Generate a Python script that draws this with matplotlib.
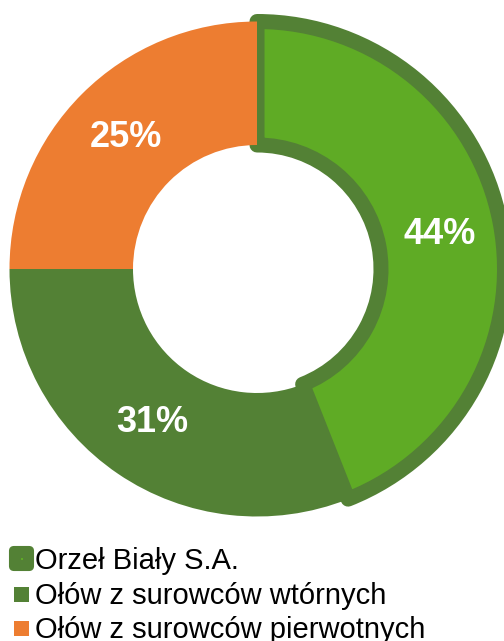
import matplotlib
matplotlib.use("Agg")
import matplotlib.pyplot as plt
from matplotlib.patches import Rectangle, FancyBboxPatch

# Data
categories = ["Orzeł Biały S.A.", "Ołów z surowców wtórnych", "Ołów z surowców pierwotnych"]
values = [44, 31, 25]
colors = ["#5FAB25", "#538135", "#ED7D31"]
highlight_edge = "#538135"

W, H = 504, 641
fig = plt.figure(figsize=(W / 100, H / 100), dpi=100)
ax = fig.add_axes([0, 0, 1, 1])

cx, cy = 257, H - 269
R = 247.5
r_in = 124

wedges, texts, autotexts = ax.pie(
    values, colors=colors, startangle=90, counterclock=False,
    center=(cx, cy), radius=R,
    wedgeprops=dict(width=R - r_in, linewidth=0),
    autopct=lambda p: f"{p:.0f}%", pctdistance=(R + r_in) / 2 / R,
    textprops=dict(color="white", fontsize=26, fontweight="bold",
                   family=["Liberation Sans", "DejaVu Sans"]),
)
wedges[0].set_edgecolor(highlight_edge)
wedges[0].set_linewidth(10.8)
wedges[0].set_joinstyle("round")
wedges[0].set_zorder(1)
for w in wedges[1:]:
    w.set_zorder(2)
for t in autotexts:
    t.set_zorder(5)

ax.set_xlim(0, W)
ax.set_ylim(0, H)
ax.set_aspect("equal")
ax.axis("off")

# Legend (drawn manually in pixel coordinates)
text_x = 35
baselines = [569, 603.5, 638]
for i, (lab, col) in enumerate(zip(categories, colors)):
    yb = baselines[i]
    if i == 0:
        m = FancyBboxPatch((10, H - 570), 23, 23,
                           boxstyle="round,pad=0,rounding_size=4",
                           facecolor=highlight_edge, edgecolor=highlight_edge,
                           linewidth=1.5, zorder=3)
        ax.add_patch(m)
        ax.add_patch(Rectangle((20.5, H - 559.5), 2, 2, facecolor=colors[0],
                               edgecolor="none", zorder=4))
    else:
        yc = yb - 9.5
        ax.add_patch(Rectangle((14, H - yc - 7.5), 15, 15, facecolor=col,
                               edgecolor="none", zorder=3))
    ax.text(text_x, H - yb, lab, fontsize=21, color="black",
            family=["Liberation Sans", "DejaVu Sans"],
            ha="left", va="baseline", zorder=5)

fig.savefig("out.png", dpi=100)
